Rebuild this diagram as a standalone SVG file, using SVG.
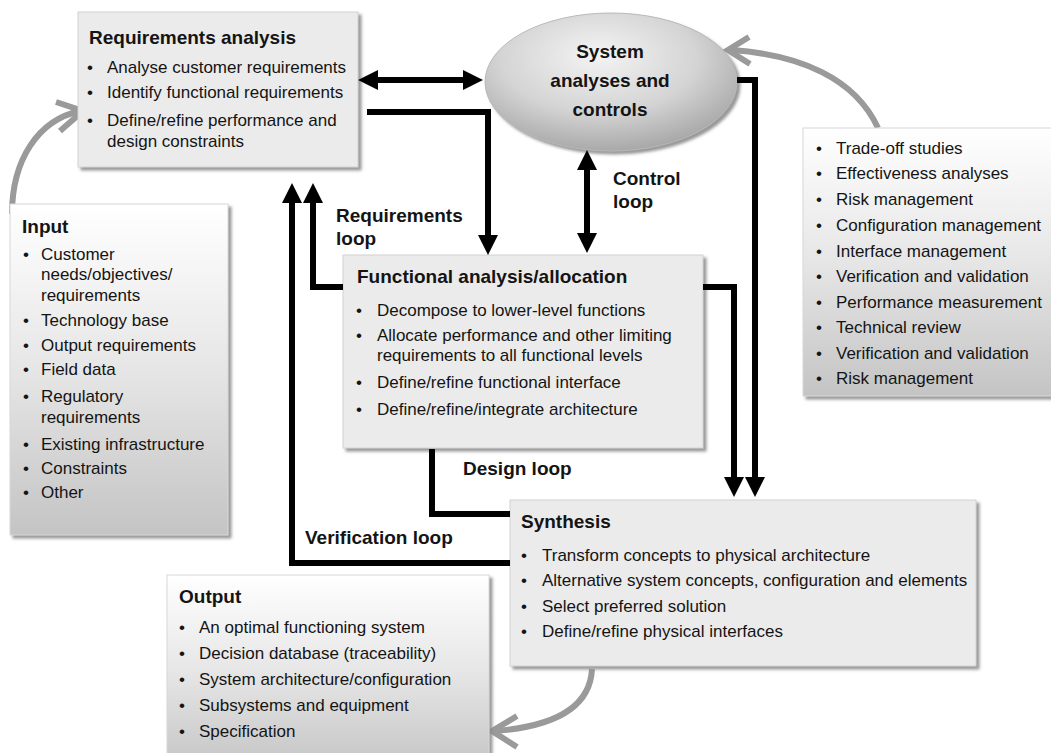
<svg xmlns="http://www.w3.org/2000/svg" width="1051" height="753" viewBox="0 0 1051 753">
  <style>
    text { font-family: "Liberation Sans", Arial, Helvetica, sans-serif; fill: #141414; }
    .t { font-size: 19px; font-weight: bold; }
    .b { font-size: 17px; }
    .flat { fill: #ebebeb; stroke: #d2d2d2; stroke-width: 1; filter: url(#shadow); }
    .grad { fill: url(#fade); stroke: #d8d8d8; stroke-width: 1; filter: url(#shadow); }
    .link { fill: none; stroke: #000; stroke-width: 6; stroke-linejoin: miter; }
    .flow { fill: none; stroke: #9a9a9a; stroke-width: 6; }
  </style>
  <defs>
    <filter id="shadow" x="-10%" y="-10%" width="125%" height="125%">
      <feDropShadow dx="3" dy="3" stdDeviation="1.5" flood-color="#8c8c8c" flood-opacity="0.9"/>
    </filter>
    <linearGradient id="fade" x1="0" y1="0" x2="0" y2="1">
      <stop offset="0" stop-color="#ffffff"/>
      <stop offset="0.5" stop-color="#e6e6e6"/>
      <stop offset="1" stop-color="#c4c4c4"/>
    </linearGradient>
    <radialGradient id="oval" cx="0.45" cy="0.35" r="0.65" fx="0.45" fy="0.3">
      <stop offset="0" stop-color="#f4f4f4"/>
      <stop offset="0.6" stop-color="#d4d4d4"/>
      <stop offset="1" stop-color="#a9a9a9"/>
    </radialGradient>
    <marker id="head" viewBox="0 0 20 20" markerWidth="20" markerHeight="20" markerUnits="userSpaceOnUse" refX="4" refY="10" orient="auto-start-reverse">
      <path d="M0,0 L20,10 L0,20 z" fill="#000"/>
    </marker>
  </defs>

  <!-- grey flow arrows -->
  <g id="flows">
    <path class="flow" d="M12 214 C12 160 38 120 80 111"/>
    <polyline class="flow" points="56,102 83,111 60,131"/>
    <path class="flow" d="M878 128 C855 78 800 55 732 50"/>
    <polyline class="flow" points="749,37 728,50 750,64"/>
    <path class="flow" d="M592 669 C590 710 550 727 494 731"/>
    <polyline class="flow" points="517,716 492,731 517,747"/>
  </g>

  <g id="requirements-analysis">
    <rect class="flat" x="78" y="12" width="280" height="155"/>
    <text class="t" x="89" y="44">Requirements analysis</text>
    <text class="b" x="87" y="73">•</text><text class="b" x="107" y="73">Analyse customer requirements</text>
    <text class="b" x="87" y="98">•</text><text class="b" x="107" y="98">Identify functional requirements</text>
    <text class="b" x="87" y="126">•</text><text class="b" x="107" y="126">Define/refine performance and</text>
    <text class="b" x="107" y="147">design constraints</text>
  </g>

  <g id="system-analyses">
    <ellipse cx="611" cy="82" rx="126" ry="69" fill="url(#oval)" stroke="#b8b8b8" stroke-width="1" filter="url(#shadow)"/>
    <text class="t" x="610" y="58" text-anchor="middle">System</text>
    <text class="t" x="610" y="87" text-anchor="middle">analyses and</text>
    <text class="t" x="610" y="116" text-anchor="middle">controls</text>
  </g>

  <g id="input">
    <rect class="grad" x="10" y="204" width="218" height="331"/>
    <text class="t" x="22" y="233">Input</text>
    <text class="b" x="23" y="260">•</text><text class="b" x="41" y="260">Customer</text>
    <text class="b" x="41" y="280">needs/objectives/</text>
    <text class="b" x="41" y="301">requirements</text>
    <text class="b" x="23" y="326">•</text><text class="b" x="41" y="326">Technology base</text>
    <text class="b" x="23" y="351">•</text><text class="b" x="41" y="351">Output requirements</text>
    <text class="b" x="23" y="375">•</text><text class="b" x="41" y="375">Field data</text>
    <text class="b" x="23" y="402">•</text><text class="b" x="41" y="402">Regulatory</text>
    <text class="b" x="41" y="423">requirements</text>
    <text class="b" x="23" y="450">•</text><text class="b" x="41" y="450">Existing infrastructure</text>
    <text class="b" x="23" y="474">•</text><text class="b" x="41" y="474">Constraints</text>
    <text class="b" x="23" y="498">•</text><text class="b" x="41" y="498">Other</text>
  </g>

  <g id="functional-analysis">
    <rect class="flat" x="343" y="255" width="360" height="193"/>
    <text class="t" x="357" y="283">Functional analysis/allocation</text>
    <text class="b" x="356" y="316">•</text><text class="b" x="377" y="316">Decompose to lower-level functions</text>
    <text class="b" x="356" y="341">•</text><text class="b" x="377" y="341">Allocate performance and other limiting</text>
    <text class="b" x="377" y="361">requirements to all functional levels</text>
    <text class="b" x="356" y="388">•</text><text class="b" x="377" y="388">Define/refine functional interface</text>
    <text class="b" x="356" y="415">•</text><text class="b" x="377" y="415">Define/refine/integrate architecture</text>
  </g>

  <g id="tools">
    <rect class="grad" x="803" y="128" width="262" height="268"/>
    <text class="b" x="816" y="154">•</text><text class="b" x="836" y="154">Trade-off studies</text>
    <text class="b" x="816" y="179">•</text><text class="b" x="836" y="179">Effectiveness analyses</text>
    <text class="b" x="816" y="205">•</text><text class="b" x="836" y="205">Risk management</text>
    <text class="b" x="816" y="231">•</text><text class="b" x="836" y="231">Configuration management</text>
    <text class="b" x="816" y="257">•</text><text class="b" x="836" y="257">Interface management</text>
    <text class="b" x="816" y="282">•</text><text class="b" x="836" y="282">Verification and validation</text>
    <text class="b" x="816" y="308">•</text><text class="b" x="836" y="308">Performance measurement</text>
    <text class="b" x="816" y="333">•</text><text class="b" x="836" y="333">Technical review</text>
    <text class="b" x="816" y="359">•</text><text class="b" x="836" y="359">Verification and validation</text>
    <text class="b" x="816" y="384">•</text><text class="b" x="836" y="384">Risk management</text>
  </g>

  <g id="synthesis">
    <rect class="flat" x="510" y="500" width="466" height="166"/>
    <text class="t" x="521" y="528">Synthesis</text>
    <text class="b" x="521" y="561">•</text><text class="b" x="542" y="561">Transform concepts to physical architecture</text>
    <text class="b" x="521" y="586">•</text><text class="b" x="542" y="586">Alternative system concepts, configuration and elements</text>
    <text class="b" x="521" y="612">•</text><text class="b" x="542" y="612">Select preferred solution</text>
    <text class="b" x="521" y="637">•</text><text class="b" x="542" y="637">Define/refine physical interfaces</text>
  </g>

  <g id="output">
    <rect class="grad" x="167" y="575" width="322" height="195"/>
    <text class="t" x="179" y="603">Output</text>
    <text class="b" x="179" y="633">•</text><text class="b" x="199" y="633">An optimal functioning system</text>
    <text class="b" x="179" y="659">•</text><text class="b" x="199" y="659">Decision database (traceability)</text>
    <text class="b" x="179" y="685">•</text><text class="b" x="199" y="685">System architecture/configuration</text>
    <text class="b" x="179" y="711">•</text><text class="b" x="199" y="711">Subsystems and equipment</text>
    <text class="b" x="179" y="737">•</text><text class="b" x="199" y="737">Specification</text>
  </g>

  <!-- loops between the process boxes -->
  <g id="connectors">
    <path class="link" d="M374 80 H467" marker-start="url(#head)" marker-end="url(#head)"/>
    <path class="link" d="M367 112 H488 V239" marker-end="url(#head)"/>
    <path class="link" d="M587 166 V237" marker-start="url(#head)" marker-end="url(#head)"/>
    <path class="link" d="M343 287 H313 V199" marker-end="url(#head)"/>
    <path class="link" d="M510 563 H292 V199" marker-end="url(#head)"/>
    <path class="link" d="M432 449 V514 H510"/>
    <path class="link" d="M703 287 H734 V481" marker-end="url(#head)"/>
    <path class="link" d="M737 80 H755 V481" marker-end="url(#head)"/>
  </g>

  <g id="labels">
    <text class="t" x="336" y="222">Requirements</text>
    <text class="t" x="336" y="245">loop</text>
    <text class="t" x="613" y="185">Control</text>
    <text class="t" x="613" y="208">loop</text>
    <text class="t" x="463" y="475">Design loop</text>
    <text class="t" x="305" y="544">Verification loop</text>
  </g>
</svg>
